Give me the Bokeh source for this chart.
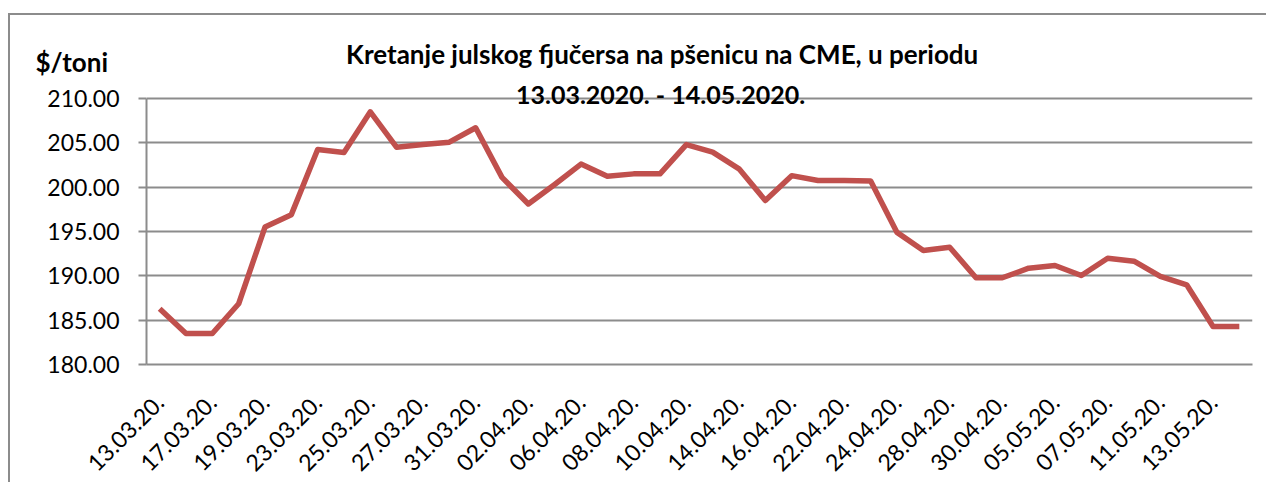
from bokeh.plotting import figure
from bokeh.layouts import column
from bokeh.models import Range1d, FixedTicker, NumeralTickFormatter, Label, ColumnDataSource
from bokeh.embed import file_html
from bokeh.resources import INLINE
import math

# ---- data ----
dates = ["13.03.20.", "16.03.20.", "17.03.20.", "18.03.20.", "19.03.20.", "20.03.20.",
         "23.03.20.", "24.03.20.", "25.03.20.", "26.03.20.", "27.03.20.", "30.03.20.",
         "31.03.20.", "01.04.20.", "02.04.20.", "03.04.20.", "06.04.20.", "07.04.20.",
         "08.04.20.", "09.04.20.", "10.04.20.", "13.04.20.", "14.04.20.", "15.04.20.",
         "16.04.20.", "17.04.20.", "22.04.20.", "23.04.20.", "24.04.20.", "27.04.20.",
         "28.04.20.", "29.04.20.", "30.04.20.", "04.05.20.", "05.05.20.", "06.05.20.",
         "07.05.20.", "08.05.20.", "11.05.20.", "12.05.20.", "13.05.20.", "14.05.20."]
prices = [186.3, 183.5, 183.5, 186.85, 195.5, 196.9, 204.25, 203.9, 208.5, 204.5,
          204.8, 205.07, 206.7, 201.1, 198.1, 200.3, 202.6, 201.24, 201.5, 201.5,
          204.8, 203.95, 202.07, 198.5, 201.3, 200.75, 200.75, 200.7, 194.9, 192.86,
          193.23, 189.78, 189.78, 190.86, 191.17, 190.04, 191.99, 191.65, 189.93, 188.99,
          184.29, 184.29]
y_ticks = [180, 185, 190, 195, 200, 205, 210]
title_line1 = "Kretanje julskog  fjučersa na  pšenicu na CME, u periodu"
title_line2 = "13.03.2020. - 14.05.2020."
unit_label = "$/toni"

FONT = "Lato"
GRAY = "#8c8c8c"
W = 1256

# ---- header strip (title line 1 and unit label) ----
HEAD_H = 63
head = figure(width=W, height=HEAD_H, output_backend="svg", toolbar_location=None,
              x_range=Range1d(0, W), y_range=Range1d(0, HEAD_H), min_border=0,
              x_axis_location=None, y_axis_location=None)
head.frame_align = False
head.grid.visible = False
head.outline_line_color = None
head.add_layout(Label(x=658, y=25, text=title_line1, text_align="center", text_baseline="middle",
                      text_font=FONT, text_font_style="bold", text_font_size="26px", text_color="black"))
head.add_layout(Label(x=25, y=17, text=unit_label, text_align="left", text_baseline="middle",
                      text_font=FONT, text_font_style="bold", text_font_size="26px", text_color="black"))

# ---- chart ----
idx = list(range(len(dates)))
src = ColumnDataSource(dict(x=idx, y=prices, d=dates))

p = figure(width=W, height=404, output_backend="svg", toolbar_location=None,
           x_range=Range1d(-0.5, len(dates) - 0.5), y_range=Range1d(180, 212.03),
           min_border_left=136, min_border_right=14, min_border_top=2, min_border_bottom=118)
p.frame_align = False
p.outline_line_color = None

p.line("x", "y", source=src, line_color="#c0504d", line_width=5.5, line_join="round")

p.xgrid.visible = False
p.ygrid.grid_line_color = GRAY
p.ygrid.grid_line_width = 2
p.ygrid.ticker = FixedTicker(ticks=y_ticks)

p.yaxis.bounds = (180, 210)
p.yaxis.ticker = FixedTicker(ticks=y_ticks)
p.yaxis.formatter = NumeralTickFormatter(format="0.00")
p.yaxis.axis_line_color = GRAY
p.yaxis.axis_line_width = 2
p.yaxis.major_tick_line_color = GRAY
p.yaxis.major_tick_line_width = 2
p.yaxis.major_tick_out = 8
p.yaxis.major_tick_in = 0
p.yaxis.minor_tick_line_color = None
p.yaxis.major_label_standoff = 19
p.yaxis.major_label_text_font = FONT
p.yaxis.major_label_text_font_size = "23px"
p.yaxis.major_label_text_color = "black"

shown = list(range(0, len(dates), 2))
p.xaxis.ticker = FixedTicker(ticks=shown)
p.xaxis.major_label_overrides = {i: dates[i] for i in shown}
p.xaxis.major_label_orientation = math.pi / 4
p.xaxis.axis_line_color = GRAY
p.xaxis.axis_line_width = 2
p.xaxis.major_tick_line_color = None
p.xaxis.minor_tick_line_color = None
p.xaxis.major_label_text_font = FONT
p.xaxis.major_label_text_font_size = "23px"
p.xaxis.major_label_text_color = "black"
p.xaxis.major_label_standoff = 28

p.add_layout(Label(x=19.02, y=210.56, text=title_line2, text_align="center", text_baseline="middle",
                   text_font=FONT, text_font_style="bold", text_font_size="25px", text_color="black"))

layout = column(head, p, spacing=0)
layout.styles = {"border-left": "2px solid #8c8c8c", "border-top": "2px solid #8c8c8c",
                 "margin-left": "8px", "margin-top": "13px"}

open("out.html", "w").write(file_html(layout, INLINE))
